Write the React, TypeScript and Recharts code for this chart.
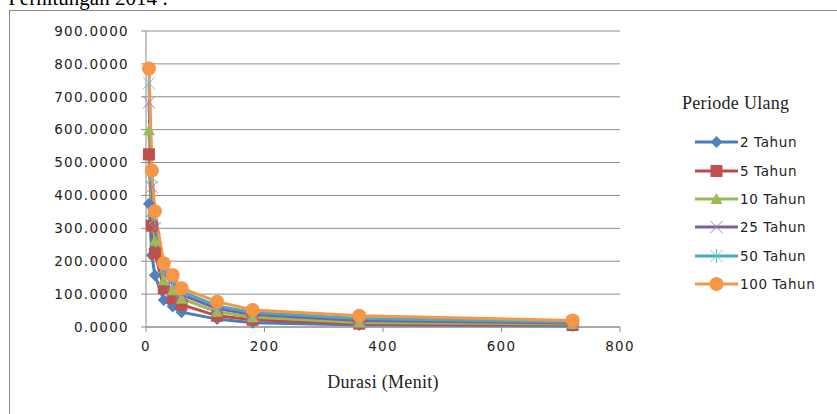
import React from 'react';
import { LineChart, Line, XAxis, YAxis, CartesianGrid } from 'recharts';

const durasi = [5, 10, 15, 30, 45, 60, 120, 180, 360, 720];
const tahun2 = [375, 218, 157, 82, 62, 45, 24, 13, 6, 3];
const tahun5 = [525, 308, 224, 118, 88, 68, 34, 22, 10, 6];
const tahun10 = [598, 350, 262, 142, 112, 86, 46, 30, 14, 9];
const tahun25 = [683, 425, 300, 165, 130, 98, 56, 38, 20, 12];
const tahun50 = [741, 455, 330, 180, 143, 108, 64, 44, 26, 15];
const tahun100 = [786, 476, 352, 194, 158, 118, 77, 52, 34, 20];
const yTicks = [0, 100, 200, 300, 400, 500, 600, 700, 800, 900];
const xTicks = [0, 200, 400, 600, 800];

const data = durasi.map((d, i) => ({
    durasi: d,
    t2: tahun2[i],
    t5: tahun5[i],
    t10: tahun10[i],
    t25: tahun25[i],
    t50: tahun50[i],
    t100: tahun100[i],
}));

const shapes: Record<string, (x: number, y: number, c: string, k?: any) => React.ReactElement> = {
    diamond: (x, y, c, k) => (
        <polygon key={k} points={`${x},${y - 6} ${x + 6},${y} ${x},${y + 6} ${x - 6},${y}`} fill={c} />
    ),
    square: (x, y, c, k) => <rect key={k} x={x - 6} y={y - 6} width={12} height={12} fill={c} />,
    triangle: (x, y, c, k) => (
        <polygon key={k} points={`${x},${y - 6} ${x + 6},${y + 5} ${x - 6},${y + 5}`} fill={c} />
    ),
    cross: (x, y, c, k) => (
        <g key={k} stroke={c} strokeWidth={1}>
            <line x1={x - 6} y1={y - 6} x2={x + 6} y2={y + 6} />
            <line x1={x - 6} y1={y + 6} x2={x + 6} y2={y - 6} />
        </g>
    ),
    star: (x, y, c, k) => (
        <g key={k} stroke={c} strokeWidth={1}>
            <line x1={x - 6} y1={y - 6} x2={x + 6} y2={y + 6} />
            <line x1={x - 6} y1={y + 6} x2={x + 6} y2={y - 6} />
            <line x1={x} y1={y - 7} x2={x} y2={y + 7} />
        </g>
    ),
    circle: (x, y, c, k) => <circle key={k} cx={x} cy={y} r={7} fill={c} />,
};

const series = [
    { key: 't2', name: '2 Tahun', line: '#4A7EBB', marker: '#4F81BD', shape: 'diamond' },
    { key: 't5', name: '5 Tahun', line: '#BE4B48', marker: '#C0504D', shape: 'square' },
    { key: 't10', name: '10 Tahun', line: '#98B954', marker: '#9BBB59', shape: 'triangle' },
    { key: 't25', name: '25 Tahun', line: '#7D60A0', marker: '#9b86bd', shape: 'cross' },
    { key: 't50', name: '50 Tahun', line: '#46AAC5', marker: '#6cc0d6', shape: 'star' },
    { key: 't100', name: '100 Tahun', line: '#F79646', marker: '#F79646', shape: 'circle' },
];

const tickFont = { fontFamily: 'DejaVu Sans', fontSize: 13.5, fill: '#222', letterSpacing: 1.3 };

function LegendBox() {
    return (
        <div style={{ fontFamily: 'DejaVu Sans', fontSize: 13.5, color: '#222' }}>
            <div style={{ fontFamily: 'Liberation Serif', fontSize: 18, marginLeft: -13, marginBottom: 14, letterSpacing: 0.3 }}>
                Periode Ulang
            </div>
            {series.map((s) => (
                <div key={s.key} style={{ display: 'flex', alignItems: 'center', height: 28.4 }}>
                    <svg width={44} height={16}>
                        <line x1={0} y1={8} x2={43} y2={8} stroke={s.line} strokeWidth={3} />
                        {shapes[s.shape](21.5, 8, s.marker)}
                    </svg>
                    <span style={{ marginLeft: 1, letterSpacing: 0.6 }}>{s.name}</span>
                </div>
            ))}
        </div>
    );
}

export default function App() {
    return (
        <div style={{ position: 'absolute', left: 0, top: 0, width: 837, height: 414, overflow: 'hidden', background: '#fff' }}>
            <div
                style={{
                    position: 'absolute', left: -132, top: -12, width: 300, textAlign: 'right',
                    fontFamily: 'Liberation Serif', fontSize: 21, lineHeight: 1,
                }}
            >
                Perhitungan 2014 :
            </div>
            <div style={{ position: 'absolute', left: 9, top: 10, width: 900, height: 500, border: '1.5px solid #8a8a8a' }} />
            <div style={{ position: 'absolute', left: 0, top: 0 }}>
                <LineChart width={837} height={414} data={data} margin={{ top: 31, right: 217, bottom: 57, left: 0 }}>
                    <CartesianGrid vertical={false} stroke="#8c8c8c" strokeWidth={1} />
                    <XAxis
                        type="number"
                        dataKey="durasi"
                        domain={[0, 800]}
                        ticks={xTicks}
                        height={30}
                        tick={tickFont}
                        tickSize={5}
                        tickMargin={9}
                        stroke="#8c8c8c"
                        label={{
                            value: 'Durasi (Menit)', position: 'bottom', offset: 18,
                            style: { fontFamily: 'Liberation Serif', fontSize: 18, fill: '#222', letterSpacing: 0.3 },
                        }}
                    />
                    <YAxis
                        type="number"
                        domain={[0, 900]}
                        ticks={yTicks}
                        width={146}
                        tick={tickFont}
                        tickSize={5}
                        tickMargin={12}
                        stroke="#8c8c8c"
                        tickFormatter={(v: number) => v.toFixed(4)}
                    />
                    {series.map((s) => (
                        <Line
                            key={s.key}
                            type="linear"
                            dataKey={s.key}
                            name={s.name}
                            stroke={s.line}
                            strokeWidth={3}
                            isAnimationActive={false}
                            dot={(p: any) => shapes[s.shape](p.cx, p.cy, s.marker, `${s.key}-${p.index}`)}
                            activeDot={false}
                        />
                    ))}
                </LineChart>
            </div>
            <div style={{ position: 'absolute', left: 695, top: 93, width: 140 }}>
                <LegendBox />
            </div>
        </div>
    );
}
